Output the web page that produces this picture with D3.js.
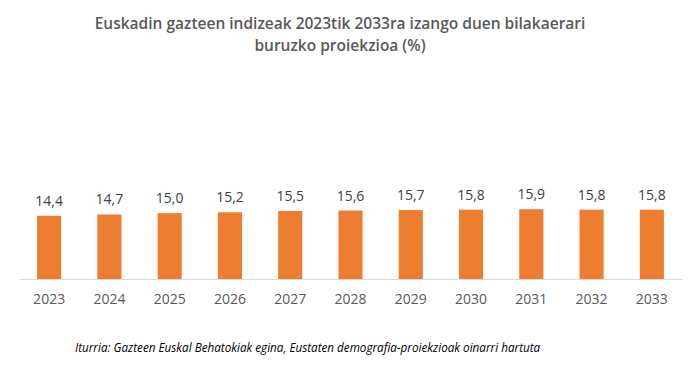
<!DOCTYPE html>
<html>
<head>
<meta charset="utf-8">
<script src="https://cdn.jsdelivr.net/npm/d3@7"></script>
<style>
  body { margin: 0; background: #fff; }
  text { font-family: "Open Sans", "Liberation Sans", sans-serif; }
</style>
</head>
<body>
<div id="chart"></div>
<script>
// Chart data
const years = ['2023', '2024', '2025', '2026', '2027', '2028', '2029', '2030', '2031', '2032', '2033']
const values = [14.4, 14.7, 15.0, 15.2, 15.5, 15.6, 15.7, 15.8, 15.9, 15.8, 15.8]
const titleLines = ['Euskadin gazteen indizeak 2023tik 2033ra izango duen bilakaerari', 'buruzko proiekzioa (%)']
const source = 'Iturria: Gazteen Euskal Behatokiak egina, Eustaten demografia-proiekzioak oinarri hartuta'

const width = 700,
  height = 372,
  plotLeft = 19,
  plotRight = 682,
  plotBase = 279,
  plotTop = 200

const svg = d3.select('#chart')
  .append('svg')
  .attr('width', width)
  .attr('height', height)

const x = d3.scaleBand()
  .domain(years)
  .range([plotLeft, plotRight])
  .paddingInner(0.6)
  .paddingOuter(0.3)

const y = d3.scaleLinear()
  .domain([0, 18])
  .range([plotBase, plotTop])

// Title
svg.append('g')
  .selectAll('text')
  .data(titleLines)
  .enter()
  .append('text')
  .attr('x', 340)
  .attr('y', (d, i) => 29 + i * 22)
  .attr('text-anchor', 'middle')
  .attr('font-size', 15.5)
  .attr('font-weight', 600)
  .attr('fill', '#595959')
  .text(d => d)

// Bars
svg.selectAll('rect')
  .data(values)
  .enter()
  .append('rect')
  .attr('x', (d, i) => x(years[i]))
  .attr('y', d => y(d))
  .attr('width', x.bandwidth())
  .attr('height', d => plotBase - y(d))
  .attr('fill', '#ED7D31')

// Value labels
svg.append('g')
  .selectAll('text')
  .data(values)
  .enter()
  .append('text')
  .attr('x', (d, i) => x(years[i]) + x.bandwidth() / 2)
  .attr('y', d => y(d) - 10)
  .attr('text-anchor', 'middle')
  .attr('font-size', 14)
  .attr('fill', '#404040')
  .text(d => d.toFixed(1).replace('.', ','))

// X axis
const xAxis = d3.axisBottom(x).tickSize(0).tickPadding(15)
const gx = svg.append('g')
  .attr('transform', `translate(0, ${plotBase})`)
  .call(xAxis)
gx.select('.domain').attr('stroke', '#d9d9d9')
gx.selectAll('text')
  .attr('font-size', 14)
  .attr('fill', '#595959')
  .style('font-family', '"Open Sans", sans-serif')

// Source note
svg.append('text')
  .attr('x', 75)
  .attr('y', 352)
  .attr('font-size', 11.7)
  .attr('font-style', 'italic')
  .attr('fill', '#000')
  .text(source)
</script>
</body>
</html>
